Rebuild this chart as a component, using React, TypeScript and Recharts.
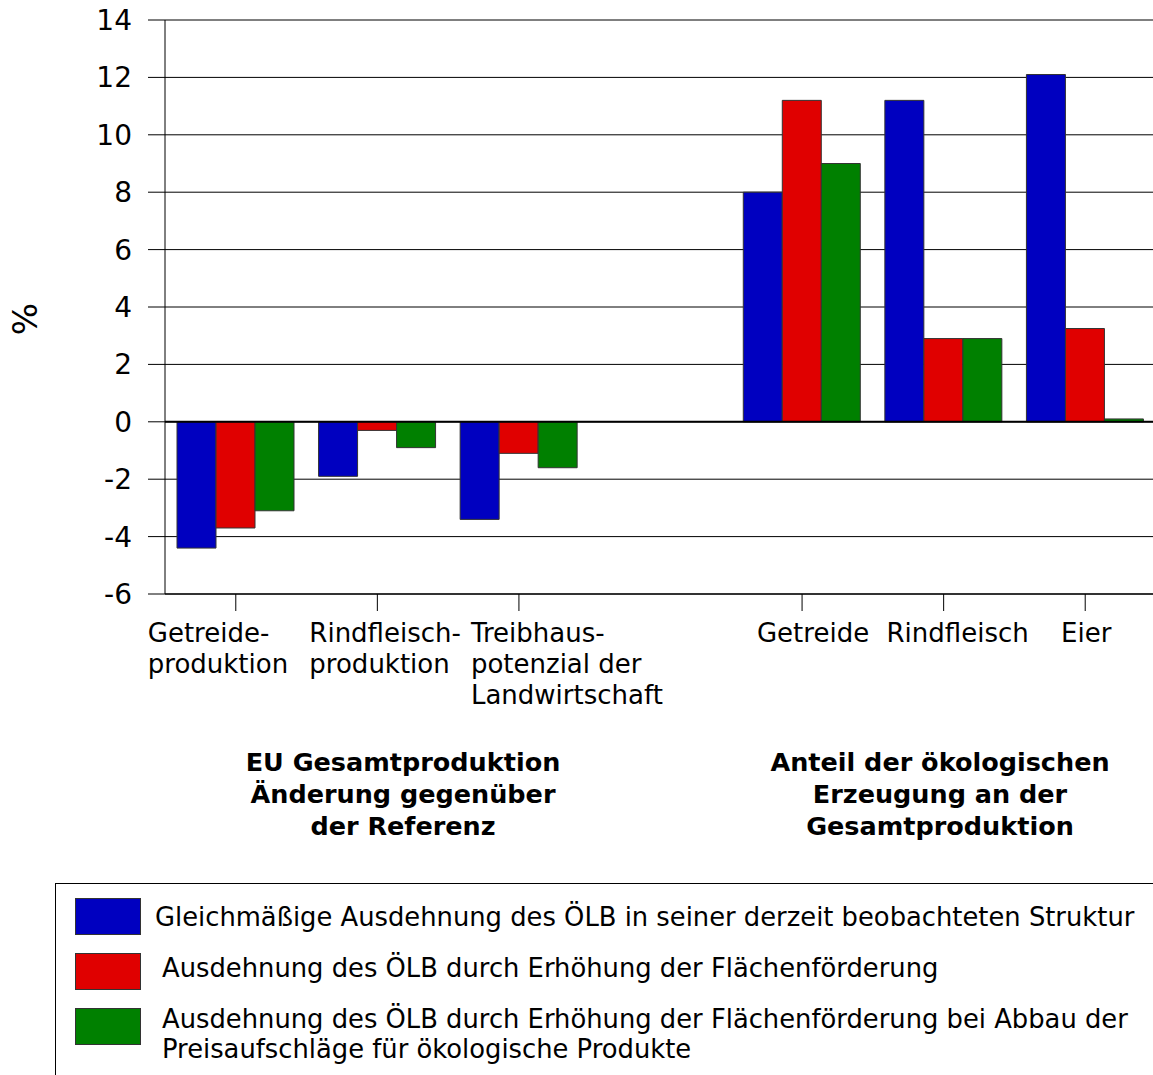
import React from 'react';
import {
  BarChart,
  Bar,
  XAxis,
  YAxis,
  CartesianGrid,
  ReferenceLine,
} from 'recharts';

// categories (line breaks = label rows), the 4th slot is an empty spacer
const categories = [
  'Getreide-\nproduktion',
  'Rindfleisch-\nproduktion',
  'Treibhaus-\npotenzial der\nLandwirtschaft',
  ' ',
  'Getreide',
  'Rindfleisch',
  'Eier',
];
const gleichmaessig = [-4.4, -1.9, -3.4, null, 8.0, 11.2, 12.1];
const flaechenfoerderung = [-3.7, -0.3, -1.1, null, 11.2, 2.9, 3.25];
const ohnePreisaufschlag = [-3.1, -0.9, -1.6, null, 9.0, 2.9, 0.1];

const yTicks = [-6, -4, -2, 0, 2, 4, 6, 8, 10, 12, 14];

const seriesNames = [
  'Gleichmäßige Ausdehnung des ÖLB in seiner derzeit beobachteten Struktur',
  'Ausdehnung des ÖLB durch Erhöhung der Flächenförderung',
  'Ausdehnung des ÖLB durch Erhöhung der Flächenförderung bei Abbau der\nPreisaufschläge für ökologische Produkte',
];
const groupTitles = [
  'EU Gesamtproduktion\nÄnderung gegenüber\nder Referenz',
  'Anteil der ökologischen\nErzeugung an der\nGesamtproduktion',
];

const colors = ['#0000C0', '#E00000', '#008000'];
const FONT = '"DejaVu Sans", Verdana, sans-serif';

const data = categories.map((name, i) => ({
  name,
  a: gleichmaessig[i],
  b: flaechenfoerderung[i],
  c: ohnePreisaufschlag[i],
}));

// label placement relative to the tick (the original labels are not centred)
const tickPlacement: Record<string, { anchor: 'start' | 'middle'; dx: number }> = {
  [categories[0]]: { anchor: 'start', dx: -88 },
  [categories[1]]: { anchor: 'start', dx: -68 },
  [categories[2]]: { anchor: 'start', dx: -48 },
  [categories[4]]: { anchor: 'middle', dx: 11 },
  [categories[5]]: { anchor: 'middle', dx: 14 },
  [categories[6]]: { anchor: 'middle', dx: 1 },
};

const CategoryTick = (props: any) => {
  const { x, y, payload } = props;
  const place = tickPlacement[payload.value] || { anchor: 'middle', dx: 0 };
  const lines = String(payload.value).split('\n');
  return (
    <text
      x={x + place.dx}
      y={y}
      textAnchor={place.anchor}
      fontFamily={FONT}
      fontSize={26}
      fill="#000"
    >
      {lines.map((l, i) => (
        <tspan key={i} x={x + place.dx} dy={i === 0 ? 31 : 31}>
          {l}
        </tspan>
      ))}
    </text>
  );
};

const App = () => {
  return (
    <div
      style={{
        position: 'absolute',
        left: 0,
        top: 0,
        width: 1153,
        height: 1075,
        overflow: 'hidden',
        background: '#fff',
        fontFamily: FONT,
      }}
    >
      <BarChart
        width={1156}
        height={1075}
        data={data}
        margin={{ top: 20, right: 0, left: 0, bottom: 361 }}
        barCategoryGap={12}
        barGap={0}
      >
        <CartesianGrid vertical={false} stroke="#000" strokeWidth={1} />
        <XAxis
          dataKey="name"
          height={120}
          ticks={categories.filter((c) => c.trim() !== '')}
          interval={0}
          tickSize={17}
          tickMargin={0}
          tick={<CategoryTick />}
          axisLine={{ stroke: '#333', strokeWidth: 2 }}
          tickLine={{ stroke: '#000' }}
        />
        <YAxis
          width={165}
          domain={[-6, 14]}
          ticks={yTicks}
          interval={0}
          tickSize={17}
          tickMargin={16}
          tick={{ fill: '#000', fontSize: 28, fontFamily: FONT }}
          axisLine={{ stroke: '#000' }}
          tickLine={{ stroke: '#000' }}
          label={{
            content: (p: any) => {
              const cy = p.viewBox.y + p.viewBox.height / 2 + 12;
              return (
                <text
                  x={25}
                  y={cy}
                  transform={`rotate(-90, 25, ${cy})`}
                  textAnchor="middle"
                  dominantBaseline="central"
                  fontFamily={FONT}
                  fontSize={34}
                  fill="#000"
                >
                  %
                </text>
              );
            },
          }}
        />
        <Bar dataKey="a" fill={colors[0]} stroke="#333" strokeWidth={1} isAnimationActive={false} />
        <Bar dataKey="b" fill={colors[1]} stroke="#333" strokeWidth={1} isAnimationActive={false} />
        <Bar dataKey="c" fill={colors[2]} stroke="#333" strokeWidth={1} isAnimationActive={false} />
        <ReferenceLine y={0} stroke="#000" strokeWidth={2} />
      </BarChart>

      {groupTitles.map((t, i) => (
        <div
          key={i}
          style={{
            position: 'absolute',
            top: 746,
            left: (i === 0 ? 403 : 940) - 200,
            width: 400,
            textAlign: 'center',
            fontWeight: 'bold',
            fontSize: 25.5,
            lineHeight: '32px',
            whiteSpace: 'pre',
            color: '#000',
          }}
        >
          {t}
        </div>
      ))}

      <div
        style={{
          position: 'absolute',
          left: 55,
          top: 883,
          width: 1200,
          height: 300,
          border: '1px solid #000',
          boxSizing: 'border-box',
        }}
      />
      {seriesNames.map((n, i) => (
        <React.Fragment key={i}>
          <div
            style={{
              position: 'absolute',
              left: 75,
              top: 898 + i * 55,
              width: 66,
              height: 37,
              background: colors[i],
              border: '1px solid #333',
              boxSizing: 'border-box',
            }}
          />
          <div
            style={{
              position: 'absolute',
              left: i === 0 ? 155 : 162,
              top: [902, 953, 1004][i],
              fontSize: 25.8,
              lineHeight: '30px',
              whiteSpace: 'pre',
              color: '#000',
            }}
          >
            {n}
          </div>
        </React.Fragment>
      ))}
    </div>
  );
};

export default App;
